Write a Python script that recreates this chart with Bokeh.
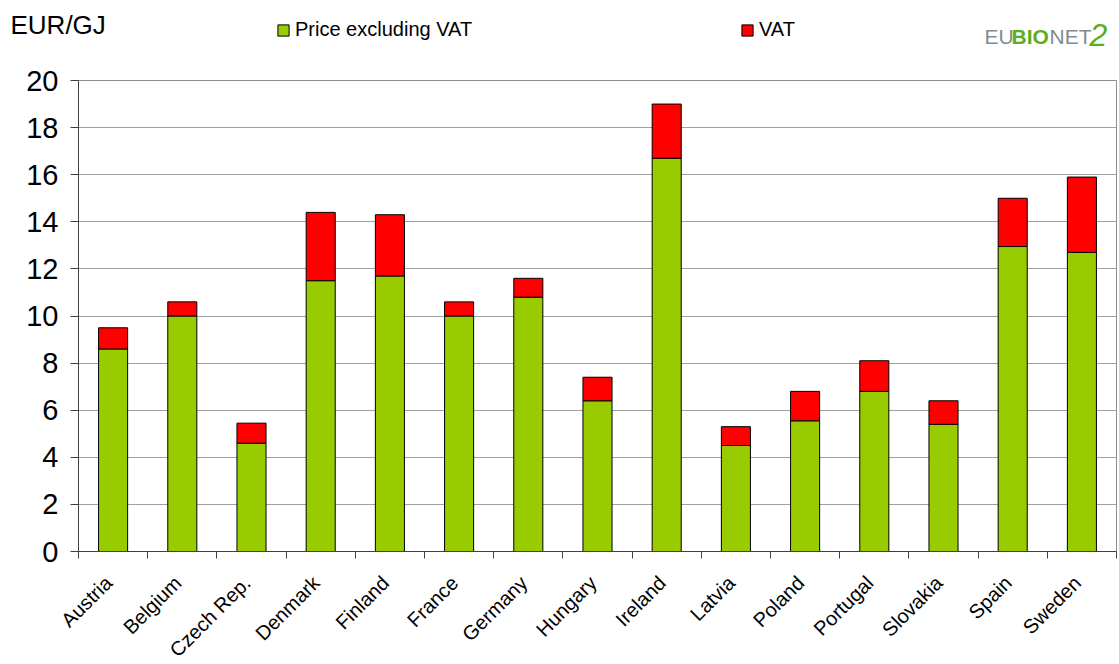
import math
from bokeh.plotting import figure
from bokeh.layouts import column, row
from bokeh.models import (ColumnDataSource, Range1d, FixedTicker, Legend, LegendItem)
from bokeh.core.properties import value
from bokeh.embed import file_html
from bokeh.resources import INLINE

countries = ["Austria", "Belgium", "Czech Rep.", "Denmark", "Finland", "France",
             "Germany", "Hungary", "Ireland", "Latvia", "Poland", "Portugal",
             "Slovakia", "Spain", "Sweden"]
price_excl_vat = [8.6, 10.0, 4.6, 11.5, 11.7, 10.0, 10.8, 6.4, 16.7, 4.5,
                  5.55, 6.8, 5.4, 12.95, 12.7]
price_total = [9.5, 10.6, 5.45, 14.4, 14.3, 10.6, 11.6, 7.4, 19.0, 5.3,
               6.8, 8.1, 6.4, 15.0, 15.9]
vat = [round(t - p, 2) for t, p in zip(price_total, price_excl_vat)]
y_ticks = list(range(0, 21, 2))
series_labels = ["Price excluding VAT", "VAT"]

GREEN = "#99cc00"
RED = "#ff0000"
FONT = "Liberation Sans"

W = 1118
HEAD_H = 60
BL, BR, BT, BB = 78, 2, 20, 16
FH = 471
MAIN_H = BT + FH + BB
LAB_H = 96
N = len(countries)
YMAX = 20
PPX = (W - BL - BR) / N

# ---------------- header (unit label, legend, logo) ----------------
head = figure(width=W, height=HEAD_H, output_backend="svg", toolbar_location=None,
              x_range=Range1d(0, W), y_range=Range1d(HEAD_H, 0),
              x_axis_type=None, y_axis_type=None,
              min_border=0, min_border_left=0, min_border_right=0,
              min_border_top=0, min_border_bottom=0)
head.outline_line_color = None

head.text(x=[10], y=[24], text=["EUR/GJ"], text_font=value(FONT),
          text_font_size="26px", text_baseline="middle", text_color="black")

# zero-size renderers that only carry the legend key styles
lg_green = head.vbar(x=[0], top=[0], bottom=[0], width=0,
                     fill_color=GREEN, line_color="black")
lg_red = head.vbar(x=[0], top=[0], bottom=[0], width=0,
                   fill_color=RED, line_color="black")

def make_legend(label, renderer, left_px, top_px):
    h = 14
    lg = Legend(items=[LegendItem(label=label, renderers=[renderer])],
                location=(left_px, HEAD_H - top_px - h),
                orientation="horizontal", padding=0, margin=0,
                border_line_color=None, background_fill_alpha=0,
                glyph_width=14, glyph_height=14, label_height=14,
                label_standoff=5, label_text_font=FONT,
                label_text_font_size="20px", label_text_baseline="middle",
                label_text_color="black", spacing=0)
    head.add_layout(lg, "center")

make_legend(series_labels[0], lg_green, 276, 27)
make_legend(series_labels[1], lg_red, 740, 27)

LOGO_GRAY = "#7f8a93"
LOGO_GREEN = "#5cae1e"
head.text(x=[984], y=[36], text=["EU"], text_font=value(FONT), text_font_size="21px",
          text_color=LOGO_GRAY, text_baseline="middle")
head.text(x=[1011], y=[36], text=["BIO"], text_font=value(FONT), text_font_size="21px",
          text_font_style="bold", text_color=LOGO_GREEN, text_baseline="middle")
head.text(x=[1049], y=[36], text=["NET"], text_font=value(FONT), text_font_size="21px",
          text_color=LOGO_GRAY, text_baseline="middle")
head.text(x=[1089], y=[34], text=["2"], text_font=value(FONT), text_font_size="32px",
          text_font_style="italic", text_color=LOGO_GREEN, text_baseline="middle")

# ---------------- main chart ----------------
x = [i + 0.5 for i in range(N)]
src = ColumnDataSource(dict(x=x, country=countries, base=price_excl_vat,
                            vat=vat, total=price_total, zero=[0] * N))

p = figure(width=W, height=MAIN_H, output_backend="svg", toolbar_location=None,
           x_range=Range1d(0, N), y_range=Range1d(0, YMAX),
           min_border_left=BL, min_border_right=BR, min_border_top=BT,
           min_border_bottom=BB)
p.outline_line_color = "#8c8c8c"
p.outline_line_width = 1

p.vbar(x="x", bottom="zero", top="base", width=0.42, source=src,
       fill_color=GREEN, line_color="black", line_width=1)
p.vbar(x="x", bottom="base", top="total", width=0.42, source=src,
       fill_color=RED, line_color="black", line_width=1)

p.yaxis.ticker = FixedTicker(ticks=y_ticks)
p.yaxis.major_label_text_font = FONT
p.yaxis.major_label_text_font_size = "29px"
p.yaxis.major_label_text_color = "black"
p.yaxis.axis_line_color = "#404040"
p.yaxis.major_tick_line_color = "#404040"
p.yaxis.major_tick_out = 8
p.yaxis.major_tick_in = 0
p.yaxis.minor_tick_line_color = None
p.yaxis.major_label_standoff = 12

# category separators as ticks; names are drawn below (rotated)
p.xaxis.ticker = FixedTicker(ticks=[], minor_ticks=list(range(N + 1)))
p.xaxis.major_label_standoff = 0
p.xaxis.major_label_text_font_size = "1px"
p.xaxis.axis_line_color = "#404040"
p.xaxis.major_tick_line_color = None
p.xaxis.major_tick_out = 0
p.xaxis.minor_tick_line_color = "#404040"
p.xaxis.minor_tick_out = 7
p.xaxis.minor_tick_in = 0

p.xgrid.grid_line_color = None
p.ygrid.grid_line_color = "#a0a0a0"
p.ygrid.grid_line_width = 1

# ---------------- rotated category names, same x mapping as the chart ----------------
lab = figure(width=W, height=LAB_H, output_backend="svg", toolbar_location=None,
             x_range=Range1d(-BL / PPX, N + BR / PPX), y_range=Range1d(LAB_H, 0),
             x_axis_type=None, y_axis_type=None,
             min_border=0, min_border_left=0, min_border_right=0,
             min_border_top=0, min_border_bottom=0)
lab.outline_line_color = None
lab_src = ColumnDataSource(dict(x=[xi - 0.065 for xi in x], y=[12] * N, text=countries))
lab.text(x="x", y="y", text="text", source=lab_src, angle=math.pi / 4,
         text_align="right", text_baseline="middle", text_font=value(FONT),
         text_font_size="20px", text_color="black")

layout = column(row(head), p, row(lab), spacing=0)
open("out.html", "w").write(file_html(layout, INLINE))
